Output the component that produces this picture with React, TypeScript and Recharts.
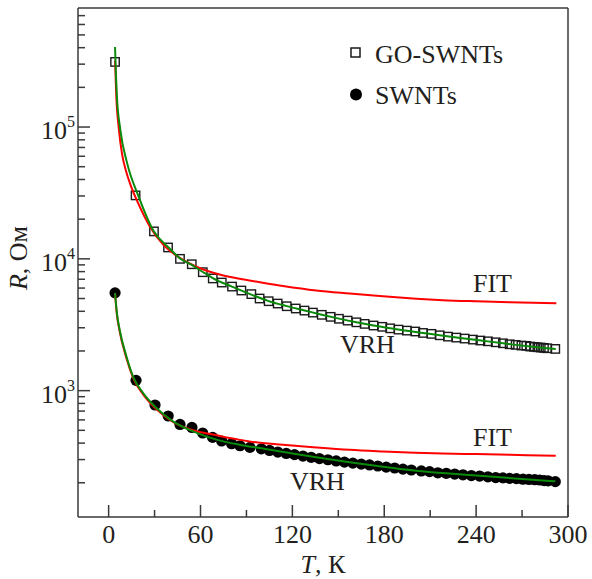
import { ComposedChart, Line, ReferenceLine, Scatter, XAxis, YAxis } from 'recharts'

// GO-SWNTs measured points (T in K, R in Ohm)
const goT = [4.2, 17.6, 29.6, 38.8, 46.6, 54.3, 61.5, 68, 73.9, 80.6, 86.7, 93.2, 98.6, 104.5, 110.4, 116.3, 122.2, 127.9, 133.4, 139.2, 145, 150.4, 156.1, 161.8, 167.2, 173, 178.7, 183.9, 189.3, 194.8, 200.3, 205.3, 210.8, 216.2, 221.6, 227.1, 232.5, 237.9, 242.8, 247.7, 252.8, 257.5, 261.9, 265.8, 269.6, 272.8, 275.4, 277.8, 280, 282.2, 284.3, 286.5, 291.7]
const goR = [312000, 30300, 16150, 12200, 10000, 9100, 7920, 7100, 6610, 6160, 5750, 5400, 5000, 4770, 4580, 4370, 4200, 4050, 3910, 3760, 3630, 3510, 3400, 3300, 3210, 3120, 3050, 2970, 2905, 2855, 2810, 2740, 2697, 2630, 2570, 2527, 2484, 2440, 2400, 2367, 2327, 2287, 2248, 2225, 2198, 2187, 2160, 2148, 2134, 2123, 2111, 2097, 2073]

// SWNTs measured points
const swT = [4.2, 17.9, 30.3, 38.9, 46.6, 54.4, 61.4, 67.9, 73.8, 80.3, 85.8, 92.3, 99.7, 105.1, 110.5, 116, 121.4, 126.9, 132.3, 137.7, 143.2, 148.6, 154, 159.5, 165, 170.4, 175.8, 181.3, 186.8, 192.2, 197.7, 204.2, 209.6, 215, 220.5, 226, 231.4, 236.9, 242.3, 247.7, 252.8, 257.5, 261.9, 266.3, 270.6, 274.5, 278.3, 281.5, 284.4, 287, 291.7]
const swR = [5520, 1197, 778, 642, 554, 526, 477, 442, 415, 396, 382, 371, 362, 352, 342, 334, 327, 319, 312, 305, 299, 293, 287, 282, 277, 273, 268, 263, 259, 254, 250, 246, 243, 238, 236, 233, 230, 227, 225, 222, 219, 218, 216, 215, 213, 212, 211, 210, 208, 207, 204]

// fit curves
const goFitT = [4.2, 5.0, 6.7, 8.8, 11.4, 14.4, 19.1, 26.8, 35.5, 46.4, 57.3, 72.5, 85.6, 98.7, 113.9, 135.6, 157.4, 179.1, 200.9, 218.3, 240.1, 261.9, 292.4]
const goFitR = [320000, 172000, 96100, 62100, 46100, 36100, 26700, 17700, 12860, 10190, 8710, 7610, 7050, 6650, 6230, 5760, 5460, 5200, 4990, 4860, 4760, 4680, 4600]
const goVrhT = [4.2, 4.5, 5.4, 7.6, 12, 19.6, 29.6, 39.1, 47, 54.3, 61.5, 68, 80.6, 93.2, 104.5, 116.3, 127.9, 139.2, 150.4, 161.8, 173, 183.9, 194.8, 205.3, 216.2, 227.1, 237.9, 247.7, 257.5, 265.8, 275.4, 284.3, 292]
const goVrhR = [405000, 310000, 172000, 96000, 53700, 29700, 16100, 12200, 10000, 9000, 7950, 7150, 6150, 5350, 4780, 4380, 4060, 3770, 3520, 3300, 3120, 2970, 2850, 2740, 2630, 2530, 2440, 2365, 2290, 2225, 2160, 2110, 2070]
const swFitT = [4.2, 5.3, 7.0, 11.4, 16, 23, 32, 42, 55, 70, 85, 92, 113.8, 135.6, 157.4, 179.1, 200, 218, 240, 262, 292]
const swFitR = [5500, 3850, 2900, 1800, 1250, 920, 710, 580, 500, 460, 425, 412, 389, 371, 356, 346, 338, 334, 330, 326, 321]
const swVrhT = [4.2, 5.4, 7.2, 11.6, 15.9, 22.4, 31.2, 42, 55.1, 70.4, 85.5, 98.6, 146.5, 201, 240, 291.7]
const swVrhR = [5520, 3890, 2900, 1823, 1285, 961, 739, 585, 491, 425, 389, 367, 299, 247, 227, 205]

const xTicks = [0, 30, 60, 90, 120, 150, 180, 210, 240, 270, 300]
const yTicks = [200, 300, 400, 500, 600, 700, 800, 900, 1000, 2000, 3000, 4000, 5000, 6000, 7000, 8000, 9000, 10000, 20000, 30000, 40000, 50000, 60000, 70000, 80000, 90000, 100000, 200000, 300000, 400000, 500000, 600000, 700000]
const yMajor: Record<number, string> = { 1000: '3', 10000: '4', 100000: '5' }

const zip = (t: number[], r: number[]) => t.map((T, i) => ({ T, R: r[i] }))

const axisColor = '#3a3a3a'
const textColor = '#231f20'
const font = '"Liberation Serif", "Times New Roman", serif'

function XTick({ x, y, payload }: any) {
  const v = payload.value
  const major = v % 60 === 0
  return (
    <g>
      <line x1={x} x2={x} y1={y} y2={y - (major ? 12 : 7)} stroke={axisColor} strokeWidth={1.5} />
      {major && (
        <text x={x} y={y + 26} textAnchor="middle" fontSize={26} fill={textColor} fontFamily={font}>
          {v}
        </text>
      )}
    </g>
  )
}

function YTick({ x, y, payload }: any) {
  const exp = yMajor[payload.value]
  return (
    <g>
      <line x1={x} x2={x + (exp ? 12 : 7)} y1={y} y2={y} stroke={axisColor} strokeWidth={1.5} />
      {exp && (
        <text x={x - 3} y={y + 12} textAnchor="end" fontSize={26} fill={textColor} fontFamily={font}>
          10
          <tspan dy={-12} fontSize={16}>{exp}</tspan>
        </text>
      )}
    </g>
  )
}

const square = (p: any) => (
  <rect x={p.cx - 4.2} y={p.cy - 4.2} width={8.4} height={8.4} fill="none" stroke="#1a1a1a" strokeWidth={1.4} />
)
const dot = (p: any) => <circle cx={p.cx} cy={p.cy} r={5.6} fill="#000" />

export default function App() {
  return (
    <div style={{ position: 'absolute', left: 0, top: 0, width: 592, height: 579, background: '#fff' }}>
      <ComposedChart width={592} height={579} margin={{ top: 8, right: 24, bottom: 0, left: 0 }}>
        <XAxis
          type="number"
          dataKey="T"
          domain={[-20, 300]}
          ticks={xTicks}
          interval={0}
          allowDataOverflow
          height={62}
          tickSize={0}
          tickMargin={0}
          tickLine={false}
          tick={<XTick />}
          axisLine={{ stroke: axisColor, strokeWidth: 1.5 }}
        />
        <YAxis
          type="number"
          dataKey="R"
          scale="log"
          domain={[110, 800000]}
          ticks={yTicks}
          interval={0}
          allowDataOverflow
          width={78}
          tickSize={0}
          tickMargin={0}
          tickLine={false}
          tick={<YTick />}
          axisLine={{ stroke: axisColor, strokeWidth: 1.5 }}
        />
        <ReferenceLine x={300} stroke={axisColor} strokeWidth={1.5} ifOverflow="visible" />
        <ReferenceLine y={800000} stroke={axisColor} strokeWidth={1.5} ifOverflow="visible" />
        <Scatter data={zip(goT, goR)} shape={square} isAnimationActive={false} zIndex={300} />
        <Scatter data={zip(swT, swR)} shape={dot} isAnimationActive={false} zIndex={300} />
        <Line data={zip(goFitT, goFitR)} dataKey="R" type="monotone" stroke="#ff0000" strokeWidth={2} dot={false} activeDot={false} isAnimationActive={false} />
        <Line data={zip(swFitT, swFitR)} dataKey="R" type="monotone" stroke="#ff0000" strokeWidth={2} dot={false} activeDot={false} isAnimationActive={false} />
        <Line data={zip(goVrhT, goVrhR)} dataKey="R" type="monotone" stroke="#0a8a0a" strokeWidth={2} dot={false} activeDot={false} isAnimationActive={false} />
        <Line data={zip(swVrhT, swVrhR)} dataKey="R" type="monotone" stroke="#0a8a0a" strokeWidth={2} dot={false} activeDot={false} isAnimationActive={false} />
      </ComposedChart>
      <svg width={592} height={579} style={{ position: 'absolute', left: 0, top: 0, pointerEvents: 'none' }} fontFamily={font} fontSize={26} fill={textColor}>
        <rect x={351} y={48} width={9} height={9} fill="none" stroke="#1a1a1a" strokeWidth={1.5} />
        <text x={375} y={63}>GO-SWNTs</text>
        <circle cx={356} cy={94.5} r={6} fill="#000" />
        <text x={375} y={104}>SWNTs</text>
        <text x={473} y={292}>FIT</text>
        <text x={340} y={353}>VRH</text>
        <text x={473} y={446}>FIT</text>
        <text x={290} y={490}>VRH</text>
        <text x={323} y={573} textAnchor="middle">
          <tspan fontStyle="italic">T</tspan>, К
        </text>
        <text x={27} y={258} textAnchor="middle" transform="rotate(-90 27 258)">
          <tspan fontStyle="italic">R</tspan>, Ом
        </text>
      </svg>
    </div>
  )
}
